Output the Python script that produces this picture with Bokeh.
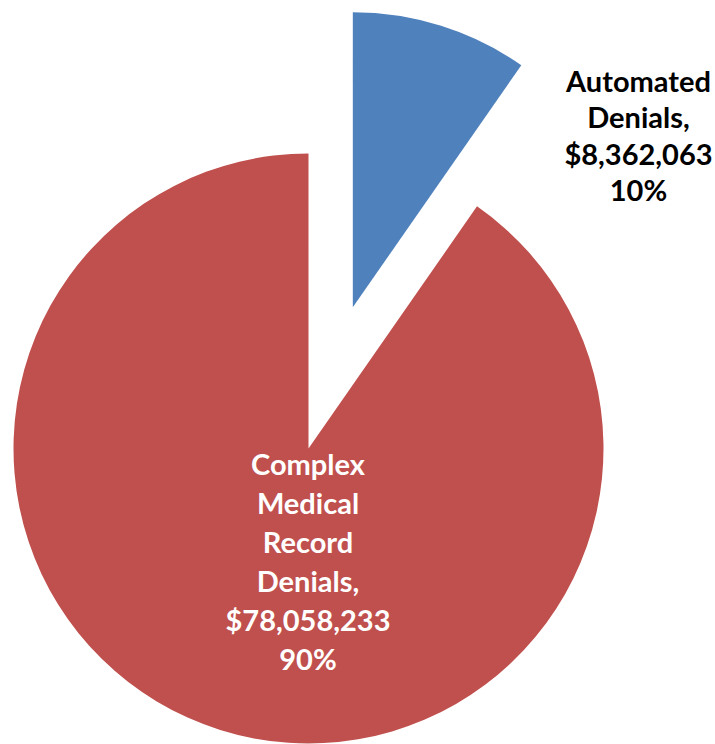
import math
from bokeh.plotting import figure
from bokeh.models import Range1d
from bokeh.core.properties import value
from bokeh.embed import file_html
from bokeh.resources import INLINE

# ---- data ----
categories = ["Automated Denials", "Complex Medical Record Denials"]
amounts = [8362063, 78058233]
colors = ["#4F81BD", "#C0504D"]
label_colors = ["#000000", "#FFFFFF"]

# ---- layout (pixel-like data units) ----
W, H = 715, 744
PAGE_H = 744
cx, cy = 308, PAGE_H - 448      # pie centre
R = 295                          # pie radius
explode = [148, 0]               # explosion distance per slice
label_x = [638, 307.5]
label_first_baseline = [79.5, 463.0]   # measured from page top
label_spacing = [36.6, 39.0]

p = figure(width=W, height=H, output_backend="svg", toolbar_location=None,
           x_range=Range1d(0, W), y_range=Range1d(PAGE_H - H, PAGE_H),
           x_axis_location=None, y_axis_location=None, min_border=0)
p.grid.visible = False
p.outline_line_color = None
p.background_fill_color = "white"
p.border_fill_color = "white"

total = sum(amounts)
cum = 0.0
for i, amt in enumerate(amounts):
    c0 = cum / total * 2 * math.pi
    cum += amt
    c1 = cum / total * 2 * math.pi
    mid = (c0 + c1) / 2
    x0 = cx + explode[i] * math.sin(mid)
    y0 = cy + explode[i] * math.cos(mid)
    p.wedge(x=[x0], y=[y0], radius=R,
            start_angle=math.pi / 2 - c1, end_angle=math.pi / 2 - c0,
            fill_color=colors[i], line_color=None)

for i, name in enumerate(categories):
    pct = round(amounts[i] / total * 100)
    lines = name.split(" ")
    lines[-1] = lines[-1] + ","
    lines += ["${:,}".format(amounts[i]), "{}%".format(pct)]
    xs = [label_x[i]] * len(lines)
    ys = [PAGE_H - (label_first_baseline[i] + k * label_spacing[i]) for k in range(len(lines))]
    p.text(x=xs, y=ys, text=lines, text_align="center", text_baseline="alphabetic",
           text_font=value("Lato"), text_font_style="bold", text_font_size="29px",
           text_color=label_colors[i])

open("out.html", "w").write(file_html(p, INLINE))
